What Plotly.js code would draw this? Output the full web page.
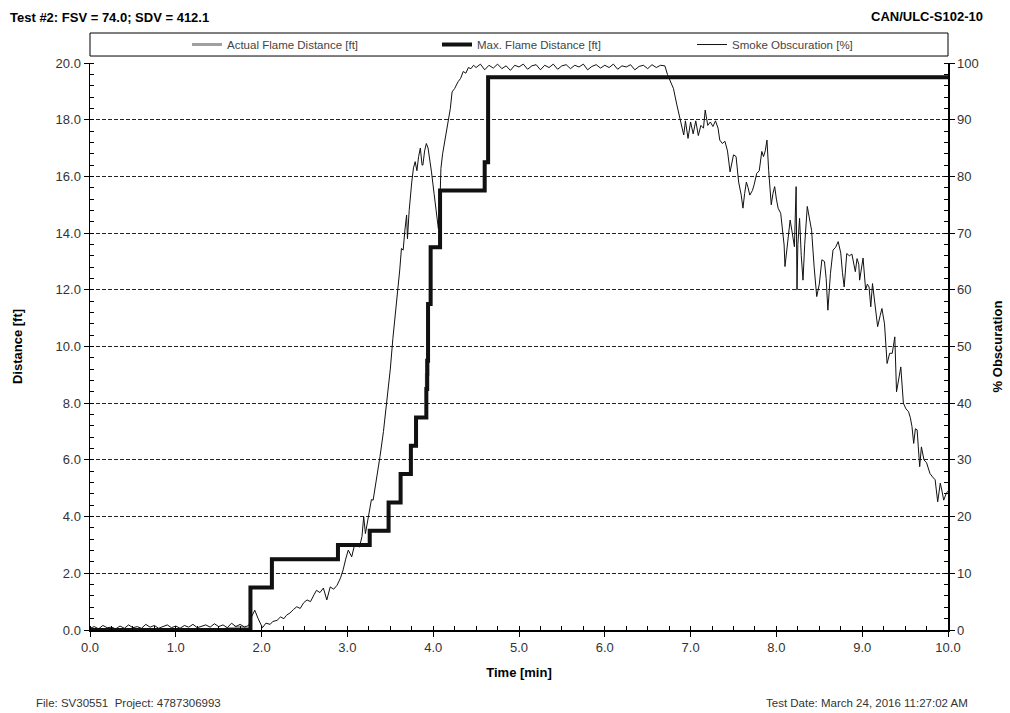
<!DOCTYPE html>
<html>
<head>
<meta charset="utf-8">
<script src="https://cdn.plot.ly/plotly-3.0.1.min.js"></script>
<style>html,body{margin:0;padding:0;background:#fff;}#chart{width:1010px;height:713px;}</style>
</head>
<body>
<div id="chart"></div>
<script>
// ---- Data ----
const maxTime = [0, 1.87, 2.12, 2.89, 3.26, 3.48, 3.62, 3.74, 3.80, 3.92, 3.93, 3.94, 3.97, 4.08, 4.60, 4.64, 10.0];
const maxDist = [0, 1.5, 2.5, 3.0, 3.5, 4.5, 5.5, 6.5, 7.5, 8.5, 9.5, 11.5, 13.5, 15.5, 16.5, 19.5, 19.5];

const actualTime = [0, 1.60, 1.70, 1.80, 1.87, 2.12, 2.89, 3.26, 3.48, 3.62, 3.74, 3.80, 3.92, 3.94, 3.97, 4.08, 4.60, 4.64, 10.0];
const actualDist = [0, 0.05, 0.1, 0.05, 1.5, 2.5, 3.0, 3.5, 4.5, 5.5, 6.5, 7.5, 9.0, 11.5, 13.5, 15.5, 16.5, 19.5, 19.5];

const smokeTime = [
 0.00,0.05,0.10,0.15,0.20,0.25,0.30,0.35,0.40,0.45,0.50,0.55,0.60,0.65,0.70,0.75,0.80,0.85,0.90,0.95,
 1.00,1.05,1.10,1.15,1.20,1.25,1.30,1.35,1.40,1.45,1.50,1.55,1.60,1.65,1.70,1.75,1.80,1.85,1.88,1.92,
 1.96,2.01,2.05,2.10,2.13,2.18,2.22,2.26,2.29,2.33,2.37,2.41,2.45,2.49,2.53,2.57,2.61,2.64,2.68,2.72,
 2.76,2.80,2.84,2.88,2.92,2.95,2.98,3.01,3.05,3.08,3.11,3.14,3.17,3.19,3.21,3.24,3.26,3.28,3.30,3.34,
 3.38,3.42,3.46,3.48,3.50,3.53,3.56,3.59,3.61,3.63,3.65,3.67,3.69,3.70,3.72,3.75,3.77,3.79,3.81,3.83,
 3.85,3.87,3.88,3.90,3.92,3.94,3.96,3.98,4.01,4.04,4.06,4.08,4.09,4.11,4.14,4.16,4.18,4.20,4.22,4.25,
 4.29,4.32,4.35,4.38,4.41,4.44,4.47,4.50,4.55,4.60,4.65,4.70,4.75,4.80,4.85,4.90,4.95,5.00,5.05,5.10,
 5.15,5.20,5.25,5.30,5.35,5.40,5.45,5.50,5.55,5.60,5.65,5.70,5.75,5.80,5.85,5.90,5.95,6.00,6.05,6.10,
 6.15,6.20,6.25,6.30,6.35,6.40,6.45,6.50,6.55,6.60,6.65,6.70,6.73,6.76,6.80,6.84,6.88,6.90,6.92,6.94,
 6.97,7.00,7.03,7.06,7.09,7.12,7.15,7.17,7.20,7.23,7.26,7.29,7.32,7.34,7.37,7.40,7.43,7.46,7.48,7.50,
 7.53,7.56,7.59,7.61,7.63,7.65,7.67,7.69,7.72,7.74,7.77,7.80,7.83,7.85,7.87,7.89,7.91,7.94,7.96,7.98,
 8.00,8.02,8.05,8.07,8.09,8.10,8.13,8.16,8.18,8.21,8.23,8.24,8.25,8.27,8.29,8.31,8.33,8.36,8.38,8.41,
 8.44,8.47,8.50,8.53,8.56,8.58,8.60,8.63,8.66,8.69,8.72,8.75,8.77,8.79,8.82,8.85,8.88,8.90,8.92,8.94,
 8.96,8.97,9.01,9.04,9.06,9.08,9.10,9.12,9.15,9.18,9.21,9.23,9.26,9.29,9.32,9.35,9.38,9.40,9.45,9.48,
 9.51,9.54,9.56,9.58,9.60,9.62,9.64,9.66,9.67,9.69,9.72,9.75,9.79,9.82,9.85,9.88,9.91,9.93,9.95,9.98,
 10.00];
const smokePct = [
 0.3,0.6,0.2,0.8,0.4,0.5,0.2,0.7,0.3,0.9,0.4,0.6,0.3,1.0,0.5,0.8,0.3,0.6,0.9,0.4,
 0.7,0.3,0.8,0.5,1.0,0.4,0.7,0.9,0.5,1.1,0.6,0.9,0.4,1.2,0.6,1.0,0.5,0.8,2.2,3.5,
 2.0,0.4,1.2,1.0,1.5,1.7,2.3,2.0,2.6,3.0,3.6,4.1,3.8,4.8,5.3,5.0,6.2,7.0,6.6,7.4,
 5.3,7.6,7.2,7.9,9.2,10.6,12.5,14.1,12.9,14.8,15.3,14.6,16.5,20.0,17.0,19.5,20.6,23.0,22.9,26.5,
 30.6,35.0,40.0,43.5,46.0,51.4,55.5,60.0,63.5,67.3,67.0,70.5,73.2,69.0,74.0,79.0,81.5,82.6,81.0,83.5,
 85.0,82.0,82.0,84.5,85.8,85.0,83.0,80.8,77.0,73.8,70.8,76.0,81.4,84.0,86.7,88.5,90.2,92.0,94.9,95.5,
 96.7,97.3,98.5,98.2,99.2,99.0,99.6,99.2,99.8,98.8,99.6,99.1,99.8,99.0,99.5,98.7,99.6,99.3,99.8,98.9,
 99.5,99.7,98.8,99.6,99.2,99.8,98.9,99.5,99.7,99.0,99.6,99.3,99.8,98.8,99.4,99.7,99.1,99.6,99.2,99.8,
 98.9,99.5,99.3,99.7,98.8,99.4,99.6,99.0,99.7,99.2,99.6,99.5,98.0,97.0,95.5,92.6,90.0,89.0,87.3,89.8,
 86.7,89.6,87.5,89.8,87.2,89.0,88.5,91.7,89.0,89.6,88.8,89.8,88.5,86.4,85.8,86.2,84.5,80.8,82.5,83.8,
 83.5,79.0,76.7,74.4,77.0,79.0,78.0,76.7,77.5,78.5,80.5,81.0,84.4,83.5,84.5,86.4,81.0,75.0,77.0,78.2,
 76.0,74.4,73.5,70.0,67.9,64.1,68.0,72.3,70.5,67.6,78.2,60.0,68.0,72.6,66.0,61.7,68.0,74.7,73.0,70.5,
 64.0,58.8,61.0,65.3,65.0,62.0,56.4,62.9,67.0,67.5,68.5,66.5,63.0,60.5,66.4,66.0,66.3,64.5,63.2,65.5,
 64.5,61.7,65.6,60.0,61.0,60.5,57.0,61.1,57.0,53.5,55.5,56.7,54.0,47.0,48.8,48.8,51.7,42.0,46.4,40.0,
 39.0,38.5,37.5,35.9,32.9,35.5,35.3,31.0,28.8,32.3,30.0,29.5,27.6,27.0,26.5,22.6,25.9,24.5,22.9,24.1,
 24.5];

const seriesNames = ['Actual Flame Distance [ft]', 'Max. Flame Distance [ft]', 'Smoke Obscuration [%]'];
const xTickVals = [0,1,2,3,4,5,6,7,8,9,10];
const xTickText = ['0.0','1.0','2.0','3.0','4.0','5.0','6.0','7.0','8.0','9.0','10.0'];

const narrow = '"Liberation Sans Narrow", "Liberation Sans", Arial, sans-serif';
const tickFont = {family: narrow, size: 13, color: '#333'};
const boldFont = {family: '"Liberation Sans", Arial, sans-serif', size: 13, color: '#000'};
const legendFont = {family: narrow, size: 11.5, color: '#444'};

const traces = [
  {x: actualTime, y: actualDist, name: seriesNames[0], type: 'scatter', mode: 'lines',
   line: {shape: 'hv', color: '#a0a0a0', width: 3}, yaxis: 'y', legend: 'legend'},
  {x: maxTime, y: maxDist, name: seriesNames[1], type: 'scatter', mode: 'lines',
   line: {shape: 'hv', color: '#111', width: 4}, yaxis: 'y', legend: 'legend2'},
  {x: smokeTime, y: smokePct, name: seriesNames[2], type: 'scatter', mode: 'lines',
   line: {color: '#111', width: 1}, yaxis: 'y2', legend: 'legend3'}
];

function leg(px) {
  return {orientation: 'h', x: (px - 90) / 858, xanchor: 'left', y: 1.0326, yanchor: 'middle',
          bgcolor: 'rgba(0,0,0,0)', borderwidth: 0, font: legendFont, itemwidth: 30};
}

const layout = {
  width: 1010, height: 713,
  margin: {l: 90, r: 62, t: 63, b: 83},
  paper_bgcolor: '#fff', plot_bgcolor: '#fff',
  font: {family: '"Liberation Sans", Arial, sans-serif', color: '#333'},
  title: {text: '<b>Test #2: FSV = 74.0; SDV = 412.1</b>', x: 10/1010, xanchor: 'left', xref: 'container',
          y: 1 - 17/713, yanchor: 'middle', yref: 'container', font: boldFont},
  showlegend: true,
  legend: leg(187),
  legend2: leg(437),
  legend3: leg(692),
  xaxis: {range: [0, 10], tickvals: xTickVals, ticktext: xTickText, ticks: 'outside', ticklen: 5,
          tickcolor: '#000', tickwidth: 1, showline: true, linecolor: '#000', linewidth: 1.5,
          showgrid: false, zeroline: false, tickfont: tickFont,
          minor: {dtick: 0.25, ticks: 'inside', ticklen: 4, tickcolor: '#000', showgrid: false},
          title: {text: '<b>Time [min]</b>', font: boldFont, standoff: 14}},
  yaxis: {range: [0, 20], dtick: 2, tickformat: '.1f', ticks: 'outside', ticklen: 5, tickcolor: '#000',
          showline: true, linecolor: '#000', linewidth: 1.5, zeroline: false,
          showgrid: true, gridcolor: '#222', griddash: '4px,2px', gridwidth: 1, tickfont: tickFont,
          minor: {dtick: 0.4, ticks: 'inside', ticklen: 4, tickcolor: '#000', showgrid: false},
          title: {text: '<b>Distance [ft]</b>', font: boldFont, standoff: 30}},
  yaxis2: {range: [0, 100], dtick: 10, overlaying: 'y', side: 'right', ticks: 'outside', ticklen: 5,
           tickcolor: '#000', showline: true, linecolor: '#000', linewidth: 1.5, zeroline: false,
           showgrid: false, tickfont: tickFont,
           minor: {dtick: 2, ticks: 'inside', ticklen: 4, tickcolor: '#000', showgrid: false},
           title: {text: '<b>% Obscuration</b>', font: boldFont, standoff: 15}},
  shapes: [
    {type: 'rect', xref: 'paper', yref: 'paper', x0: 0, x1: 1, y0: 1.0123, y1: 1.0529,
     line: {color: '#000', width: 1}, fillcolor: 'rgba(0,0,0,0)'}
  ],
  annotations: [
    {text: '<b>CAN/ULC-S102-10</b>', xref: 'paper', yref: 'paper', x: (985-90)/858, xanchor: 'right',
     y: (630-17)/567, yanchor: 'middle', showarrow: false, font: boldFont},
    {text: 'File: SV30551  Project: 4787306993', xref: 'paper', yref: 'paper', x: (34-90)/858, xanchor: 'left',
     y: (630-703)/567, yanchor: 'middle', showarrow: false,
     font: {family: narrow, size: 11.5, color: '#333'}},
    {text: 'Test Date: March 24, 2016 11:27:02 AM', xref: 'paper', yref: 'paper', x: (970-90)/858, xanchor: 'right',
     y: (630-703)/567, yanchor: 'middle', showarrow: false,
     font: {family: narrow, size: 11.5, color: '#333'}}
  ]
};

Plotly.newPlot('chart', traces, layout, {displayModeBar: false, staticPlot: true});
</script>
</body>
</html>
